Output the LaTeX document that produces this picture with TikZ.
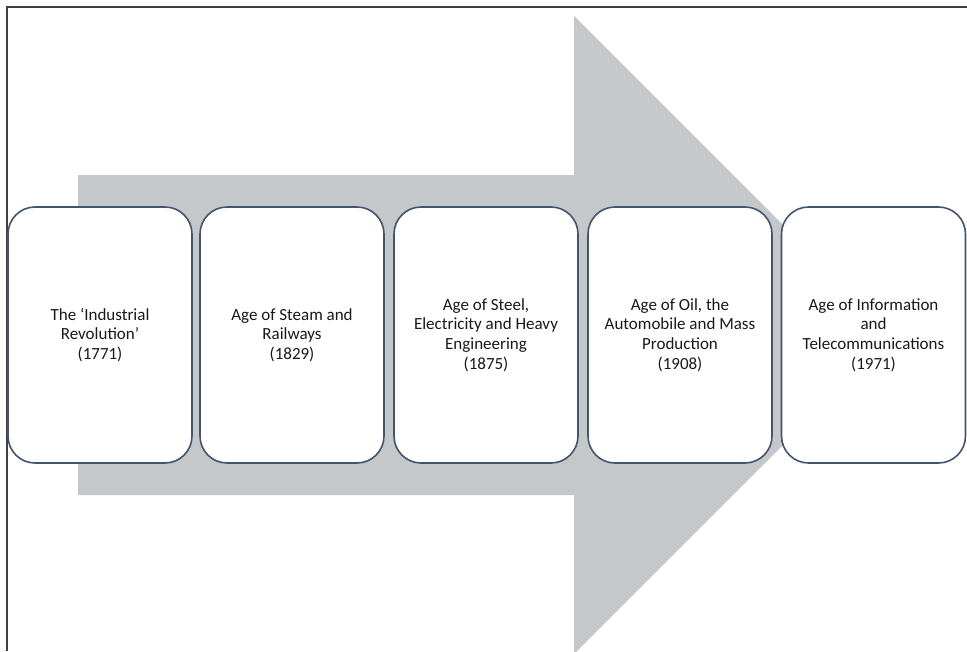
\documentclass[tikz,border=0pt]{standalone}
\usepackage{fontspec}
\setmainfont{Carlito}
\definecolor{arrowgray}{HTML}{C4C8CB}
\definecolor{boxline}{HTML}{44546A}
\definecolor{frameline}{HTML}{404040}
\begin{document}
\begin{tikzpicture}[x=1pt,y=-1pt,
  agebox/.style={draw=boxline, line width=1.6pt, fill=white, rounded corners=27pt,
    minimum width=184pt, minimum height=256pt, inner sep=0pt,
    align=center, font=\fontsize{17}{19.7}\selectfont, text=black!90}]
\useasboundingbox (0,0) rectangle (967,651);
\draw[frameline, line width=1.2pt] (7,651) -- (7,7) -- (967,7);
\fill[arrowgray] (78,175) -- (574,175) -- (574,16) -- (893,335) -- (574,654) -- (574,495) -- (78,495) -- cycle;
\node[agebox] (b1) at (100,335) {The ‘Industrial\\Revolution’\\(1771)};
\node[agebox] (b2) at (292,335) {Age of Steam and\\Railways\\(1829)};
\node[agebox] (b3) at (486,335) {Age of Steel,\\Electricity and Heavy\\Engineering\\(1875)};
\node[agebox] (b4) at (680,335) {Age of Oil, the\\Automobile and Mass\\Production\\(1908)};
\node[agebox] (b5) at (873.5,335) {Age of Information\\and\\Telecommunications\\(1971)};
\end{tikzpicture}
\end{document}
